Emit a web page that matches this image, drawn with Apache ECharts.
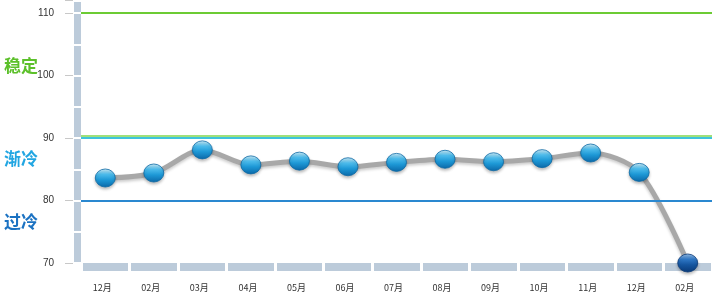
<!DOCTYPE html>
<html><head><meta charset="utf-8">
<script src="https://cdn.jsdelivr.net/npm/echarts@6/dist/echarts.min.js"></script>
<style>html,body{margin:0;padding:0;background:#fff}#c{width:721px;height:307px}</style>
</head><body><div id="c"></div>
<script>
var categories = ['12月','02月','03月','04月','05月','06月','07月','08月','09月','10月','11月','12月','02月'];
var values = [83.6, 84.4, 88.1, 85.7, 86.3, 85.4, 86.1, 86.6, 86.2, 86.7, 87.6, 84.5, 70.0];
var thresholds = [110, 90, 80];
var zoneLabels = [
  {text:'稳定', value:101.2, color:'#5cc02a'},
  {text:'渐冷', value:86.3, color:'#22a6e2'},
  {text:'过冷', value:76.3, color:'#1b72c2'}
];
var yMin = 70, yMax = 112;

var chart = echarts.init(document.getElementById('c'), null, {renderer:'canvas'});
var normalBall = {type:'linear',x:0,y:0,x2:0,y2:1,colorStops:[
  {offset:0,color:'#d6f2fd'},{offset:0.3,color:'#4dbcec'},{offset:0.6,color:'#1d98d6'},{offset:1,color:'#0b68a8'}]};
var lastBall = {type:'linear',x:0,y:0,x2:0,y2:1,colorStops:[
  {offset:0,color:'#9cc3ec'},{offset:0.3,color:'#2f78c6'},{offset:0.6,color:'#15559f'},{offset:1,color:'#0a3a78'}]};

var seriesData = values.map(function(v,i){
  return {value:v, itemStyle:{color: i===values.length-1 ? lastBall : normalBall,
    borderColor: i===values.length-1 ? '#0a3a78' : '#0d6aa6', borderWidth:0.8,
    shadowColor:'rgba(0,0,0,0.25)', shadowBlur:3, shadowOffsetY:2}};
});

var option = {
  backgroundColor:'#ffffff',
  animation:false,
  grid:{left:81, right:9, top:0.5, bottom:44, containLabel:false, outerBoundsMode:'none'},
  xAxis:[{
    type:'category', position:'bottom', data:categories, boundaryGap:true, offset:3.5,
    axisLine:{show:true, lineStyle:{color:'#bccbda', width:8, cap:'butt'}},
    axisTick:{show:false}, splitLine:{show:false},
    axisLabel:{color:'#333', fontSize:9, margin:17, fontFamily:'Noto Sans CJK SC', padding:[0,6,0,0]}
  },{
    type:'category', position:'bottom', data:categories, boundaryGap:true, offset:8, z:5,
    axisLine:{show:false},
    axisTick:{show:true, inside:true, length:9, lineStyle:{color:'#ffffff', width:3, cap:'butt'}},
    axisLabel:{show:false}, splitLine:{show:false}
  }],
  yAxis:[{
    type:'value', position:'left', min:yMin, max:yMax, interval:5, offset:4,
    axisLine:{show:true, lineStyle:{color:'#bccbda', width:7, cap:'butt'}},
    axisTick:{show:false}, axisLabel:{show:false}, splitLine:{show:false}
  },{
    type:'value', position:'left', min:yMin, max:yMax, interval:5, offset:0, z:5,
    axisLine:{show:false},
    axisTick:{show:true, length:8, lineStyle:{color:'#ffffff', width:2, cap:'butt'}},
    axisLabel:{show:false}, splitLine:{show:false}
  },{
    type:'value', position:'left', min:yMin, max:yMax, interval:10, offset:8,
    axisLine:{show:false},
    axisTick:{show:true, length:8, lineStyle:{color:'#c8c8c8', width:1}},
    axisLabel:{color:'#333', fontSize:10, margin:19, fontFamily:'Liberation Sans',
      formatter:function(v){return v%10===0 ? String(v) : '';}},
    splitLine:{show:false}
  }],
  series:[{
    type:'line', data:seriesData, yAxisIndex:0, xAxisIndex:0,
    smooth:0.3, symbol:'circle', symbolSize:[20,18], z:4,
    lineStyle:{color:'#a8a8a8', width:5, shadowColor:'rgba(0,0,0,0.2)', shadowBlur:3, shadowOffsetY:2},
    markLine:{
      silent:true, symbol:'none', label:{show:false},
      data:[
        {yAxis:thresholds[0], lineStyle:{color:'#6ccb34', width:2, type:'solid'}},
        {yAxis:thresholds[1], lineStyle:{color:'#3ec4dc', width:2, type:'solid', shadowColor:'#9fe07a', shadowBlur:0, shadowOffsetY:-2}},
        {yAxis:thresholds[2], lineStyle:{color:'#2a88d0', width:2, type:'solid'}}
      ]
    }
  }]
};
chart.setOption(option);

var gfx = zoneLabels.map(function(z){
  var p = chart.convertToPixel({yAxisIndex:0}, z.value);
  return {type:'text', left:4, top:p-11, style:{text:z.text, fill:z.color, font:'bold 17px "Noto Sans CJK SC"'}};
});
chart.setOption({graphic:gfx});
</script>
</body></html>
